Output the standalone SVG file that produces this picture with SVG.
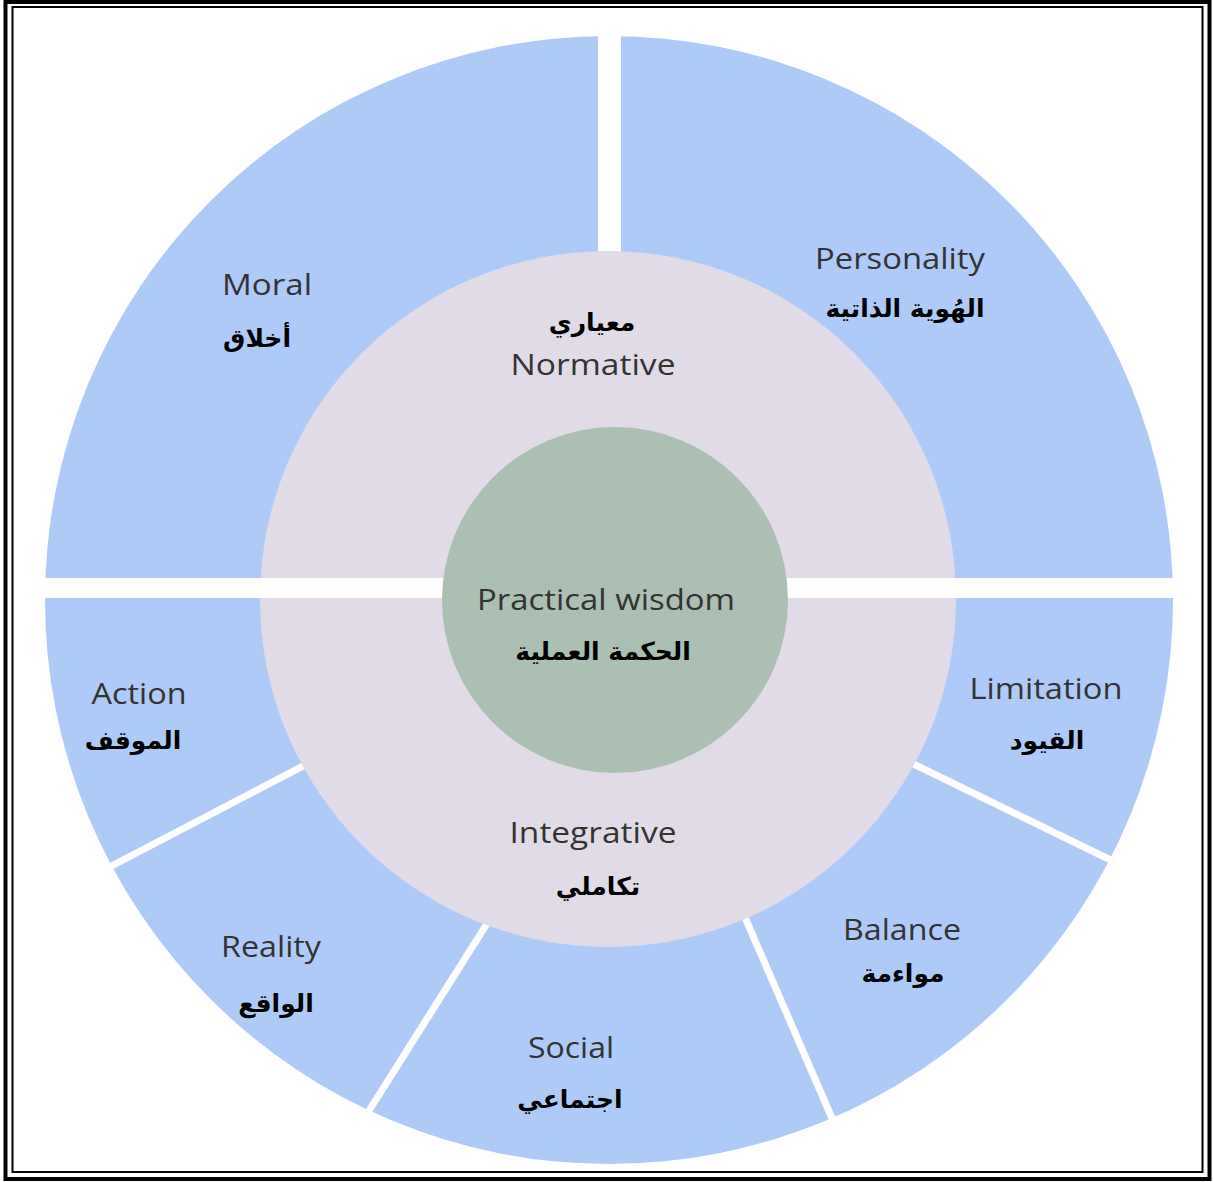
<svg xmlns="http://www.w3.org/2000/svg" width="1214" height="1182" viewBox="0 0 1214 1182">
<style>
.en{font-family:"Open Sans","DejaVu Sans",sans-serif;font-size:29px;fill:#333;text-anchor:middle}
.ar{font-family:"DejaVu Sans","Noto Sans",sans-serif;font-size:25px;font-weight:bold;fill:#000;text-anchor:middle}
.gap{stroke:#fff;stroke-width:7;fill:none}
</style>
<rect width="1214" height="1182" fill="#fff"/>
<g id="outer-ring">
<circle cx="609" cy="600" r="564" fill="#aecbf8"/>
</g>
<g id="connectors">
<rect x="598" y="0" width="23" height="300" fill="#fff"/>
<line class="gap" x1="330" y1="752" x2="100" y2="872"/>
<line class="gap" x1="500" y1="903" x2="360" y2="1125"/>
<line class="gap" x1="737" y1="899" x2="838" y2="1132"/>
<line class="gap" x1="895" y1="755" x2="1125" y2="867"/>
</g>
<g id="middle-ring">
<circle cx="608" cy="599" r="348" fill="#e1dbe8"/>
</g>
<g id="hgap">
<rect x="30" y="578" width="1160" height="20" fill="#fff"/>
</g>
<g id="center">
<circle cx="615" cy="600" r="173" fill="#abbfb2"/>
<text class="en" x="606" y="610" textLength="258" lengthAdjust="spacingAndGlyphs">Practical wisdom</text>
<text class="ar" x="603" y="660">الحكمة العملية</text>
</g>
<g id="normative">
<text class="ar" x="592" y="331">معياري</text>
<text class="en" x="593" y="375" textLength="165" lengthAdjust="spacingAndGlyphs">Normative</text>
</g>
<g id="integrative">
<text class="en" x="593" y="843" textLength="167" lengthAdjust="spacingAndGlyphs">Integrative</text>
<text class="ar" x="598" y="895">تكاملي</text>
</g>
<g id="moral">
<text class="en" x="267" y="295" textLength="90" lengthAdjust="spacingAndGlyphs">Moral</text>
<text class="ar" x="257" y="347">أخلاق</text>
</g>
<g id="personality">
<text class="en" x="900" y="269" textLength="170" lengthAdjust="spacingAndGlyphs">Personality</text>
<text class="ar" x="905" y="317">الهُوية الذاتية</text>
</g>
<g id="action">
<text class="en" x="139" y="704" textLength="95" lengthAdjust="spacingAndGlyphs">Action</text>
<text class="ar" x="133" y="749">الموقف</text>
</g>
<g id="limitation">
<text class="en" x="1046" y="699" textLength="153" lengthAdjust="spacingAndGlyphs">Limitation</text>
<text class="ar" x="1047" y="749">القيود</text>
</g>
<g id="reality">
<text class="en" x="271" y="957" textLength="100" lengthAdjust="spacingAndGlyphs">Reality</text>
<text class="ar" x="276" y="1012">الواقع</text>
</g>
<g id="balance">
<text class="en" x="902" y="940" textLength="118" lengthAdjust="spacingAndGlyphs">Balance</text>
<text class="ar" x="903" y="982">مواءمة</text>
</g>
<g id="social">
<text class="en" x="571" y="1058" textLength="86" lengthAdjust="spacingAndGlyphs">Social</text>
<text class="ar" x="570" y="1108">اجتماعي</text>
</g>
<g id="border" fill="none" stroke="#000">
<rect x="5.5" y="2" width="1204" height="1177" stroke-width="4"/>
<rect x="12.5" y="7" width="1190" height="1165" stroke-width="2"/>
</g>
</svg>
